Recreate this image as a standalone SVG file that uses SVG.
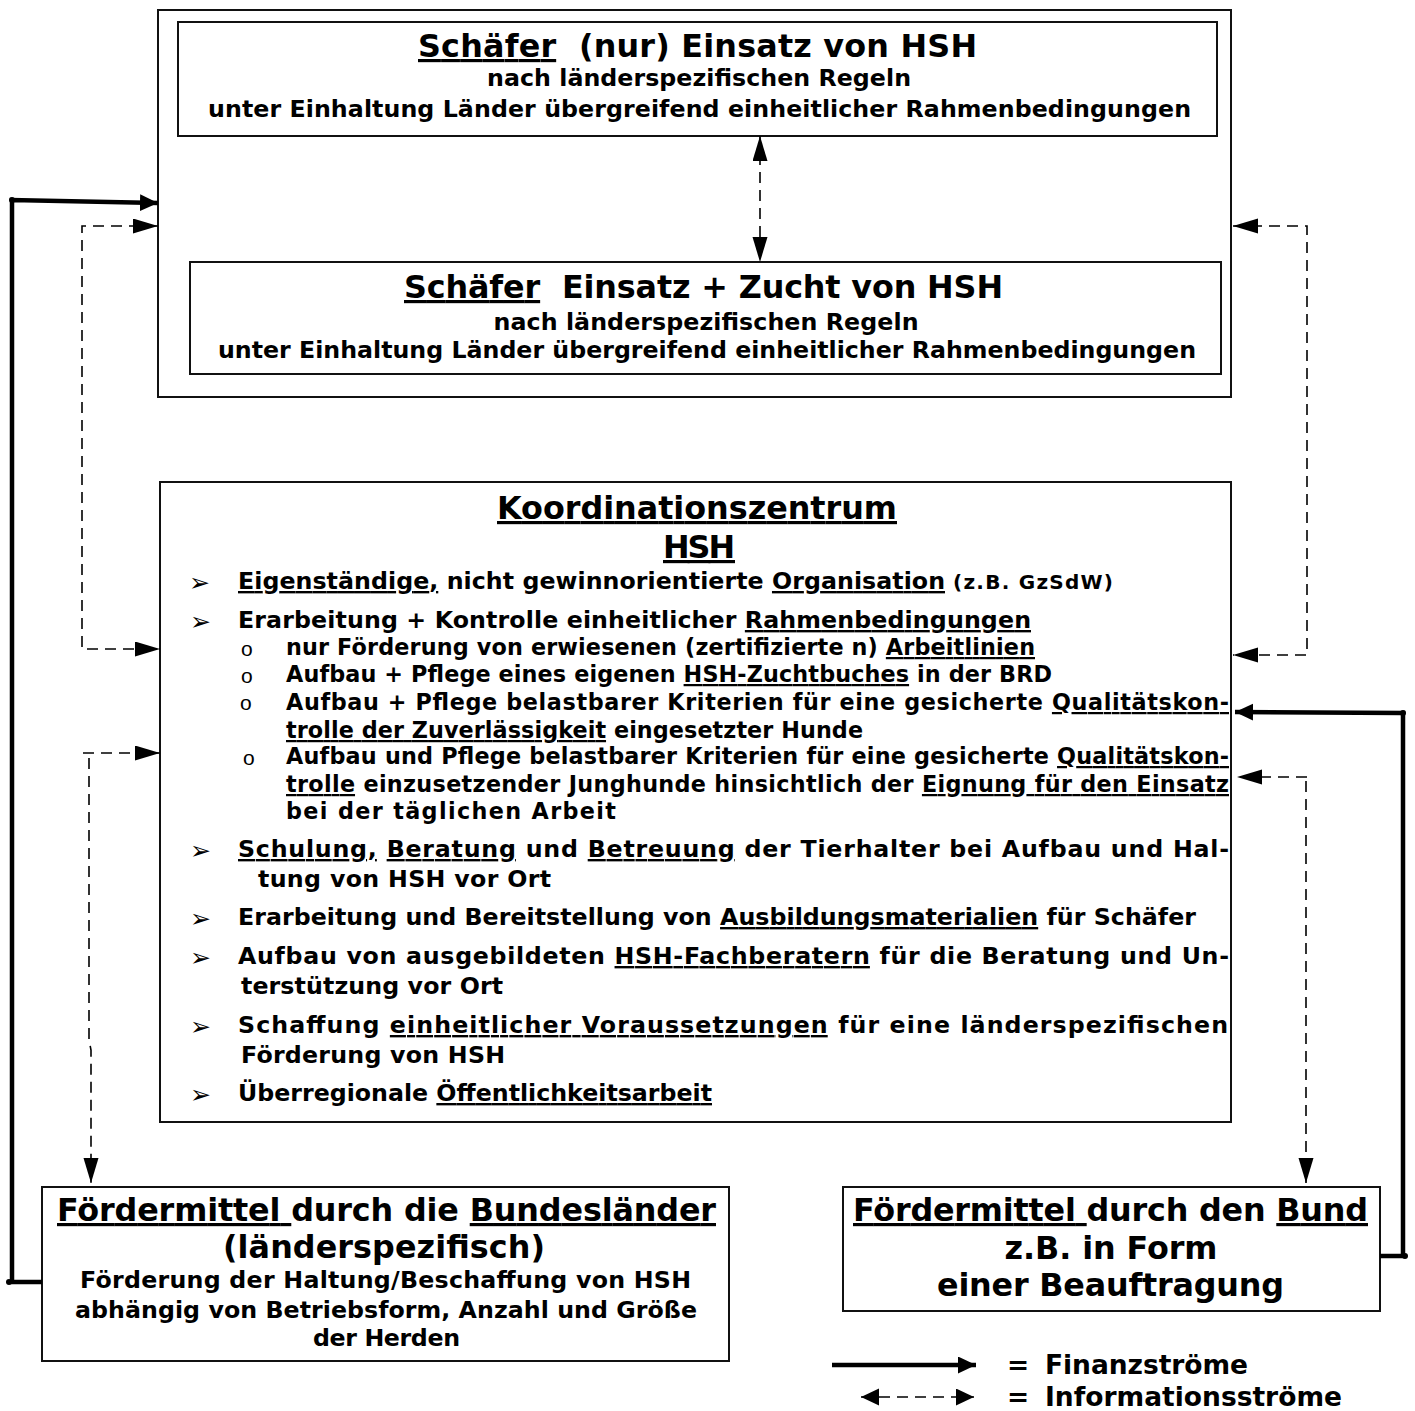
<svg xmlns="http://www.w3.org/2000/svg" width="1415" height="1411" viewBox="0 0 1415 1411">
<style>
text{font-family:"DejaVu Sans","Verdana","Liberation Sans",sans-serif;font-weight:bold;fill:#000}
.t{font-size:31.8px}
.m{font-size:23.7px}
.s{font-size:22.3px}
.x{font-size:20px}
.l{font-size:26.5px}
.u{text-decoration:underline;text-decoration-skip-ink:none}
.box{fill:#fff;stroke:#111;stroke-width:2}
.fin{fill:none;stroke:#000;stroke-width:4.5;stroke-linejoin:miter}
.info{fill:none;stroke:#000;stroke-width:1.6;stroke-dasharray:11 7}
.bul{font-family:"DejaVu Sans",sans-serif;font-weight:normal;font-size:25px}
.sub{font-family:"Liberation Sans",sans-serif;font-weight:normal;font-size:21px}
</style>
<defs>
<marker id="hf" markerUnits="userSpaceOnUse" markerWidth="19" markerHeight="18" refX="18" refY="8.5" orient="auto-start-reverse" viewBox="0 0 19 18"><path d="M0,0 L18,8.5 L0,17 z" fill="#000"/></marker>
<marker id="hi" markerUnits="userSpaceOnUse" markerWidth="26" markerHeight="16" refX="25" refY="7.5" orient="auto-start-reverse" viewBox="0 0 26 16"><path d="M0,0 L25,7.5 L0,15 z" fill="#000"/></marker>
</defs>
<rect width="1415" height="1411" fill="#fff"/>

<g id="schaefer-outer">
<rect class="box" x="158" y="10" width="1073" height="387"/>
</g>
<g id="schaefer-einsatz">
<rect class="box" x="178" y="22" width="1039" height="114"/>
<text class="t" x="697.5" y="57" text-anchor="middle" textLength="559" lengthAdjust="spacing" style="white-space:pre"><tspan class="u">Schäfer</tspan>  (nur) Einsatz von HSH</text>
<text class="m" x="699" y="86" text-anchor="middle" textLength="424" lengthAdjust="spacing">nach länderspezifischen Regeln</text>
<text class="m" x="699.5" y="117" text-anchor="middle" textLength="983" lengthAdjust="spacing">unter Einhaltung Länder übergreifend einheitlicher Rahmenbedingungen</text>
</g>
<g id="schaefer-zucht">
<rect class="box" x="190" y="262" width="1031" height="112"/>
<text class="t" x="703.5" y="298" text-anchor="middle" textLength="599" lengthAdjust="spacing" style="white-space:pre"><tspan class="u">Schäfer</tspan>  Einsatz + Zucht von HSH</text>
<text class="m" x="706" y="330" text-anchor="middle" textLength="425" lengthAdjust="spacing">nach länderspezifischen Regeln</text>
<text class="m" x="707" y="358" text-anchor="middle" textLength="978" lengthAdjust="spacing">unter Einhaltung Länder übergreifend einheitlicher Rahmenbedingungen</text>
</g>

<g id="koordinationszentrum">
<rect class="box" x="160" y="482" width="1071" height="640"/>
<text class="t" x="697" y="519" text-anchor="middle" textLength="400" lengthAdjust="spacing"><tspan class="u">Koordinationszentrum</tspan></text>
<text class="t" x="699" y="558" text-anchor="middle" textLength="72" lengthAdjust="spacing"><tspan class="u">HSH</tspan></text>

<text class="bul" x="189" y="591">➢</text>
<text class="m" x="238" y="589" textLength="707" lengthAdjust="spacing"><tspan class="u">Eigenständige,</tspan> nicht gewinnorientierte <tspan class="u">Organisation</tspan></text>
<text class="x" x="953" y="589" textLength="160" lengthAdjust="spacing">(z.B. GzSdW)</text>

<text class="bul" x="190" y="630">➢</text>
<text class="m" x="238" y="628" textLength="793" lengthAdjust="spacing">Erarbeitung + Kontrolle einheitlicher <tspan class="u">Rahmenbedingungen</tspan></text>

<text class="sub" x="241" y="656">o</text>
<text class="s" x="286" y="655" textLength="749" lengthAdjust="spacing">nur Förderung von erwiesenen (zertifizierte n) <tspan class="u">Arbeitlinien</tspan></text>
<text class="sub" x="241" y="683">o</text>
<text class="s" x="286" y="682" textLength="766" lengthAdjust="spacing">Aufbau + Pflege eines eigenen <tspan class="u">HSH-Zuchtbuches</tspan> in der BRD</text>
<text class="sub" x="240" y="710">o</text>
<text class="s" x="286" y="710" textLength="943" lengthAdjust="spacing">Aufbau + Pflege belastbarer Kriterien für eine gesicherte <tspan class="u">Qualitätskon-</tspan></text>
<text class="s" x="286" y="738" textLength="577" lengthAdjust="spacing"><tspan class="u">trolle der Zuverlässigkeit</tspan> eingesetzter Hunde</text>
<text class="sub" x="243" y="765">o</text>
<text class="s" x="286" y="764" textLength="943" lengthAdjust="spacing">Aufbau und Pflege belastbarer Kriterien für eine gesicherte <tspan class="u">Qualitätskon-</tspan></text>
<text class="s" x="286" y="792" textLength="943" lengthAdjust="spacing"><tspan class="u">trolle</tspan> einzusetzender Junghunde hinsichtlich der <tspan class="u">Eignung für den Einsatz</tspan></text>
<text class="s" x="286" y="819" textLength="330" lengthAdjust="spacing">bei der täglichen Arbeit</text>

<text class="bul" x="190" y="859">➢</text>
<text class="m" x="238" y="857" textLength="991" lengthAdjust="spacing"><tspan class="u">Schulung,</tspan> <tspan class="u">Beratung</tspan> und <tspan class="u">Betreuung</tspan> der Tierhalter bei Aufbau und Hal-</text>
<text class="m" x="258" y="887" textLength="293" lengthAdjust="spacing">tung von HSH vor Ort</text>

<text class="bul" x="190" y="927">➢</text>
<text class="m" x="238" y="925" textLength="958" lengthAdjust="spacing">Erarbeitung und Bereitstellung von <tspan class="u">Ausbildungsmaterialien</tspan> für Schäfer</text>

<text class="bul" x="190" y="966">➢</text>
<text class="m" x="238" y="964" textLength="991" lengthAdjust="spacing">Aufbau von ausgebildeten <tspan class="u">HSH-Fachberatern</tspan> für die Beratung und Un-</text>
<text class="m" x="241" y="994" textLength="262" lengthAdjust="spacing">terstützung vor Ort</text>

<text class="bul" x="190" y="1035">➢</text>
<text class="m" x="238" y="1033" textLength="990" lengthAdjust="spacing">Schaffung <tspan class="u">einheitlicher Voraussetzungen</tspan> für eine länderspezifischen</text>
<text class="m" x="241" y="1063" textLength="264" lengthAdjust="spacing">Förderung von HSH</text>

<text class="bul" x="190" y="1103">➢</text>
<text class="m" x="238" y="1101" textLength="474" lengthAdjust="spacing">Überregionale <tspan class="u">Öffentlichkeitsarbeit</tspan></text>
</g>

<g id="foerder-laender">
<rect class="box" x="42" y="1187" width="687" height="174"/>
<text class="t" x="386.5" y="1221" text-anchor="middle" textLength="659" lengthAdjust="spacing"><tspan class="u">Fördermittel </tspan>durch die <tspan class="u">Bundesländer</tspan></text>
<text class="t" x="384" y="1258" text-anchor="middle" textLength="322" lengthAdjust="spacing">(länderspezifisch)</text>
<text class="m" x="385.5" y="1288" text-anchor="middle" textLength="611" lengthAdjust="spacing">Förderung der Haltung/Beschaffung von HSH</text>
<text class="m" x="386" y="1318" text-anchor="middle" textLength="622" lengthAdjust="spacing">abhängig von Betriebsform, Anzahl und Größe</text>
<text class="m" x="386.5" y="1346" text-anchor="middle" textLength="147" lengthAdjust="spacing">der Herden</text>
</g>

<g id="foerder-bund">
<rect class="box" x="843" y="1187" width="537" height="124"/>
<text class="t" x="1110.5" y="1221" text-anchor="middle" textLength="515" lengthAdjust="spacing"><tspan class="u">Fördermittel </tspan>durch den <tspan class="u">Bund</tspan></text>
<text class="t" x="1111" y="1259" text-anchor="middle" textLength="213" lengthAdjust="spacing">z.B. in Form</text>
<text class="t" x="1110.5" y="1296" text-anchor="middle" textLength="347" lengthAdjust="spacing">einer Beauftragung</text>
</g>

<g id="connectors">
<path class="info" d="M760,136 L760,262" marker-start="url(#hi)" marker-end="url(#hi)"/>
<path class="info" d="M158,226 L82,226 L82,649 L160,649" marker-start="url(#hi)" marker-end="url(#hi)"/>
<path class="info" d="M1233,226 L1307,226 L1307,655 L1233,655" marker-start="url(#hi)" marker-end="url(#hi)"/>
<path class="info" d="M83,753 L160,753" marker-end="url(#hi)"/>
<path class="info" d="M89,758 L89,1040 L91,1050 L91,1183" marker-end="url(#hi)"/>
<path class="info" d="M1307,777 L1237,777" marker-end="url(#hi)"/>
<path class="info" d="M1306,781 L1306,1183" marker-end="url(#hi)"/>
<path class="fin" d="M42,1282 L12,1282 L12,200 L158,203" marker-end="url(#hf)"/>
<circle cx="9" cy="1282" r="3"/>
<circle cx="12" cy="200" r="3"/>
<path class="fin" d="M1380,1256 L1403,1256 L1403,713 L1235,712" marker-end="url(#hf)"/>
<circle cx="1405" cy="1256" r="3"/>
<circle cx="1403" cy="713" r="3"/>
</g>

<g id="legend">
<path class="fin" d="M832,1365 L976,1365" stroke-width="5" marker-end="url(#hf)"/>
<path class="info" d="M861,1397 L974,1397" stroke-width="2" stroke-dasharray="10 8" marker-start="url(#hf)" marker-end="url(#hf)"/>
<text class="l" x="1007" y="1374">=</text>
<text class="l" x="1045" y="1374" textLength="203" lengthAdjust="spacing">Finanzströme</text>
<text class="l" x="1007" y="1406">=</text>
<text class="l" x="1045" y="1406" textLength="297" lengthAdjust="spacing">Informationsströme</text>
</g>
</svg>
